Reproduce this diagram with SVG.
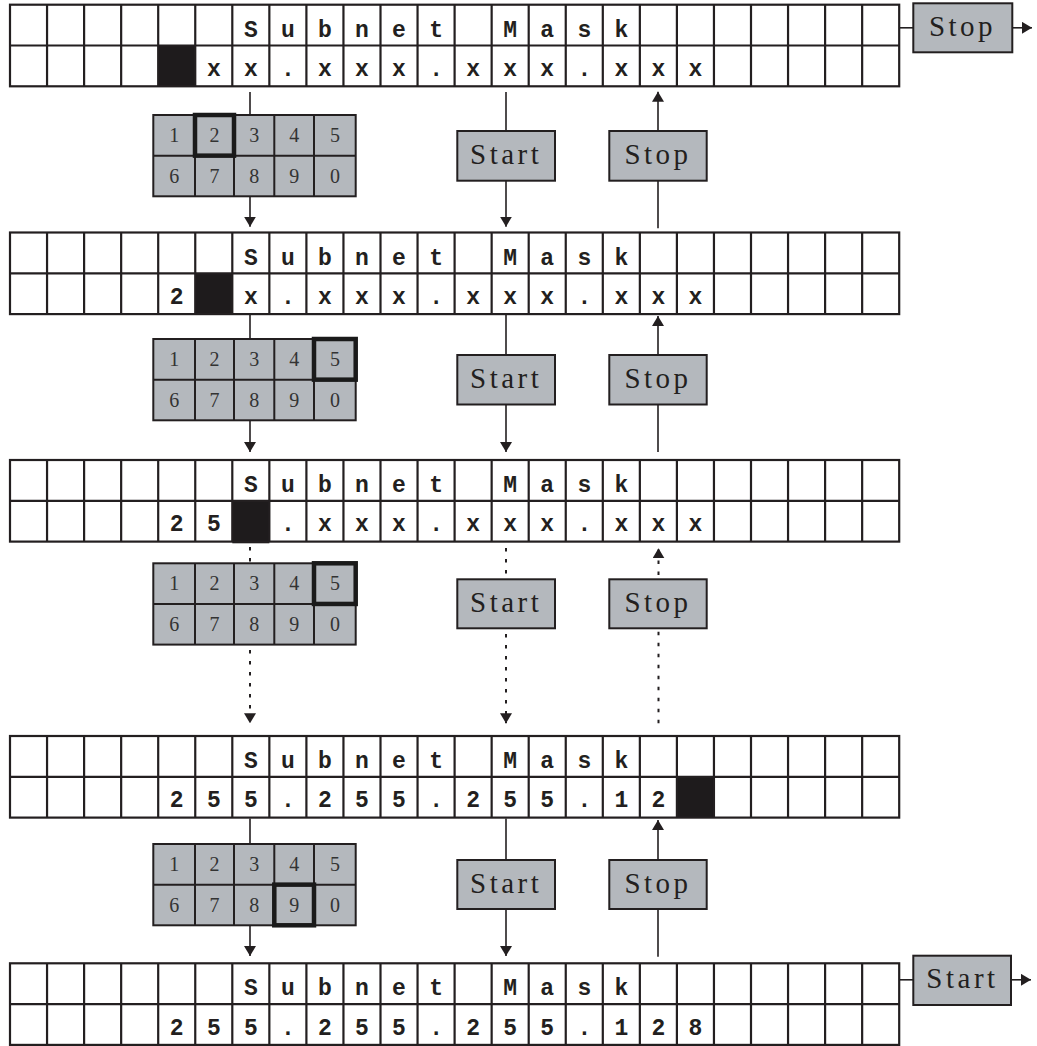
<svg xmlns="http://www.w3.org/2000/svg" xmlns:xlink="http://www.w3.org/1999/xlink" width="1037" height="1046" viewBox="0 0 1037 1046">
<style>
.grid{fill:none;stroke:#231f20;stroke-width:2.2}
.mono{font-family:"Liberation Mono","DejaVu Sans Mono",monospace;font-weight:bold;font-size:23px;fill:#231f20;text-anchor:middle}
.cur{fill:#1e1b1c}
.pad{fill:#b4b8bd;stroke:#231f20;stroke-width:2}
.padl{stroke:#231f20;stroke-width:2}
.dig{font-family:"Liberation Serif","Times New Roman",serif;font-size:20px;fill:#333;text-anchor:middle}
.sel{fill:none;stroke:#1a1a1a;stroke-width:4.5}
.btn{fill:#b4b8bd;stroke:#231f20;stroke-width:2}
.btnt{font-family:"Liberation Serif","Times New Roman",serif;font-size:29px;letter-spacing:3.5px;fill:#231f20;text-anchor:middle}
.ln{stroke:#231f20;stroke-width:1.6;fill:none}
.dot{stroke:#231f20;stroke-width:2;fill:none;stroke-dasharray:3.5 7.5}
</style>
<defs>
<marker id="ah" viewBox="0 0 10 12" refX="10" refY="6" markerWidth="10" markerHeight="12" markerUnits="userSpaceOnUse" orient="auto">
<path d="M0,0 L10,6 L0,12 z" fill="#231f20"/>
</marker>
<g id="lcd" class="grid">
<rect x="10" y="0" width="889.2" height="81.6"/>
<line x1="10" y1="40.8" x2="899.2" y2="40.8"/>
<path d="M47.05 0V81.6M84.1 0V81.6M121.15 0V81.6M158.2 0V81.6M195.25 0V81.6M232.3 0V81.6M269.35 0V81.6M306.4 0V81.6M343.45 0V81.6M380.5 0V81.6M417.55 0V81.6M454.6 0V81.6M491.65 0V81.6M528.7 0V81.6M565.75 0V81.6M602.8 0V81.6M639.85 0V81.6M676.9 0V81.6M713.95 0V81.6M751 0V81.6M788.05 0V81.6M825.1 0V81.6M862.15 0V81.6"/>
</g>
<g id="padgrid">
<rect class="pad" x="153.3" y="0" width="202.4" height="81.3"/>
<path class="padl" d="M195 0V81.3M234 0V81.3M274.3 0V81.3M314 0V81.3M153.3 40.65H355.7"/>
</g>
</defs>

<g id="panel1">
<rect class="cur" x="158.2" y="45.5" width="37.05" height="40.8"/>
<use xlink:href="#lcd" href="#lcd" transform="translate(0,4.7)"/>
<text class="mono" x="250.8 287.9 324.9 362.0 399.0 436.1 473.1 510.2 547.2 584.3 621.3" y="36.7">Subnet Mask</text>
<text class="mono" x="213.8 250.8 287.9 324.9 362.0 399.0 436.1 473.1 510.2 547.2 584.3 621.3 658.4 695.4" y="76">xx.xxx.xxx.xxx</text>
</g>
<g id="panel2">
<rect class="cur" x="195.25" y="273.3" width="37.05" height="40.8"/>
<use xlink:href="#lcd" href="#lcd" transform="translate(0,232.5)"/>
<text class="mono" x="250.8 287.9 324.9 362.0 399.0 436.1 473.1 510.2 547.2 584.3 621.3" y="264.5">Subnet Mask</text>
<text class="mono" x="176.7 250.8 287.9 324.9 362.0 399.0 436.1 473.1 510.2 547.2 584.3 621.3 658.4 695.4" y="303.8">2x.xxx.xxx.xxx</text>
</g>
<g id="panel3">
<rect class="cur" x="232.3" y="500.8" width="37.05" height="42.5"/>
<use xlink:href="#lcd" href="#lcd" transform="translate(0,460)"/>
<text class="mono" x="250.8 287.9 324.9 362.0 399.0 436.1 473.1 510.2 547.2 584.3 621.3" y="492">Subnet Mask</text>
<text class="mono" x="176.7 213.8 287.9 324.9 362.0 399.0 436.1 473.1 510.2 547.2 584.3 621.3 658.4 695.4" y="531.3">25.xxx.xxx.xxx</text>
</g>
<g id="panel4">
<rect class="cur" x="676.9" y="776.8" width="37.05" height="40.8"/>
<use xlink:href="#lcd" href="#lcd" transform="translate(0,736)"/>
<text class="mono" x="250.8 287.9 324.9 362.0 399.0 436.1 473.1 510.2 547.2 584.3 621.3" y="768">Subnet Mask</text>
<text class="mono" x="176.7 213.8 250.8 287.9 324.9 362.0 399.0 436.1 473.1 510.2 547.2 584.3 621.3 658.4" y="807.3">255.255.255.12</text>
</g>
<g id="panel5">
<use xlink:href="#lcd" href="#lcd" transform="translate(0,963.3)"/>
<text class="mono" x="250.8 287.9 324.9 362.0 399.0 436.1 473.1 510.2 547.2 584.3 621.3" y="995.3">Subnet Mask</text>
<text class="mono" x="176.7 213.8 250.8 287.9 324.9 362.0 399.0 436.1 473.1 510.2 547.2 584.3 621.3 658.4 695.4" y="1034.6">255.255.255.128</text>
</g>

<g id="keypad1">
<use xlink:href="#padgrid" href="#padgrid" transform="translate(0,115)"/>
<text class="dig" x="174.2 214.5 254.2 294.2 334.9" y="142">12345</text>
<text class="dig" x="174.2 214.5 254.2 294.2 334.9" y="182.5">67890</text>
<rect class="sel" x="195" y="115" width="39" height="40.65"/>
</g>
<g id="keypad2">
<use xlink:href="#padgrid" href="#padgrid" transform="translate(0,339)"/>
<text class="dig" x="174.2 214.5 254.2 294.2 334.9" y="366">12345</text>
<text class="dig" x="174.2 214.5 254.2 294.2 334.9" y="406.5">67890</text>
<rect class="sel" x="314" y="339" width="41.7" height="40.65"/>
</g>
<g id="keypad3">
<use xlink:href="#padgrid" href="#padgrid" transform="translate(0,563.3)"/>
<text class="dig" x="174.2 214.5 254.2 294.2 334.9" y="590.3">12345</text>
<text class="dig" x="174.2 214.5 254.2 294.2 334.9" y="630.8">67890</text>
<rect class="sel" x="314" y="563.3" width="41.7" height="40.65"/>
</g>
<g id="keypad4">
<use xlink:href="#padgrid" href="#padgrid" transform="translate(0,844)"/>
<text class="dig" x="174.2 214.5 254.2 294.2 334.9" y="871">12345</text>
<text class="dig" x="174.2 214.5 254.2 294.2 334.9" y="911.5">67890</text>
<rect class="sel" x="274.3" y="884.65" width="39.7" height="40.65"/>
</g>

<g id="start1"><rect class="btn" x="457.3" y="131" width="97.7" height="49.7"/><text class="btnt" x="506.2" y="163.5">Start</text></g>
<g id="stop1"><rect class="btn" x="609.3" y="131" width="97.4" height="49.7"/><text class="btnt" x="658" y="163.5">Stop</text></g>
<g id="start2"><rect class="btn" x="457.3" y="355" width="97.7" height="49.5"/><text class="btnt" x="506.2" y="387.5">Start</text></g>
<g id="stop2"><rect class="btn" x="609.3" y="355" width="97.4" height="49.5"/><text class="btnt" x="658" y="387.5">Stop</text></g>
<g id="start3"><rect class="btn" x="457.3" y="579.3" width="97.7" height="49"/><text class="btnt" x="506.2" y="611.8">Start</text></g>
<g id="stop3"><rect class="btn" x="609.3" y="579.3" width="97.4" height="49"/><text class="btnt" x="658" y="611.8">Stop</text></g>
<g id="start4"><rect class="btn" x="457.3" y="860" width="97.7" height="49"/><text class="btnt" x="506.2" y="892.5">Start</text></g>
<g id="stop4"><rect class="btn" x="609.3" y="860" width="97.4" height="49"/><text class="btnt" x="658" y="892.5">Stop</text></g>
<g id="stopRight"><rect class="btn" x="913.3" y="3.3" width="99" height="49"/><text class="btnt" x="962.5" y="35.8">Stop</text></g>
<g id="startRight"><rect class="btn" x="913.3" y="955.7" width="97.7" height="49.3"/><text class="btnt" x="962.5" y="988.3">Start</text></g>

<g id="connectors">
<line class="ln" x1="250" y1="92" x2="250" y2="115"/>
<line class="ln" x1="250" y1="196.3" x2="250" y2="226.7" marker-end="url(#ah)"/>
<line class="ln" x1="506" y1="92" x2="506" y2="131"/>
<line class="ln" x1="506" y1="180.7" x2="506" y2="226.7" marker-end="url(#ah)"/>
<line class="ln" x1="658" y1="228.3" x2="658" y2="180.7"/>
<line class="ln" x1="658" y1="131" x2="658" y2="91.7" marker-end="url(#ah)"/>
<line class="ln" x1="899" y1="27.8" x2="913.3" y2="27.8"/>
<line class="ln" x1="1012.3" y1="27.8" x2="1032" y2="27.8" marker-end="url(#ah)"/>

<line class="ln" x1="250" y1="315" x2="250" y2="339"/>
<line class="ln" x1="250" y1="420.3" x2="250" y2="452" marker-end="url(#ah)"/>
<line class="ln" x1="506" y1="315" x2="506" y2="355"/>
<line class="ln" x1="506" y1="404.5" x2="506" y2="452" marker-end="url(#ah)"/>
<line class="ln" x1="658" y1="452" x2="658" y2="404.5"/>
<line class="ln" x1="658" y1="355" x2="658" y2="316" marker-end="url(#ah)"/>

<line class="dot" x1="250" y1="547" x2="250" y2="563.3"/>
<line class="dot" x1="250" y1="650" x2="250" y2="723.3" marker-end="url(#ah)"/>
<line class="dot" x1="506" y1="548" x2="506" y2="579.3"/>
<line class="dot" x1="506" y1="634" x2="506" y2="723.3" marker-end="url(#ah)"/>
<line class="dot" x1="658.5" y1="723.3" x2="658.5" y2="630"/>
<line class="dot" x1="658.5" y1="575" x2="658.5" y2="548.3" marker-end="url(#ah)"/>

<line class="ln" x1="250" y1="818.5" x2="250" y2="844"/>
<line class="ln" x1="250" y1="925.3" x2="250" y2="956" marker-end="url(#ah)"/>
<line class="ln" x1="506" y1="818.5" x2="506" y2="860"/>
<line class="ln" x1="506" y1="909" x2="506" y2="956" marker-end="url(#ah)"/>
<line class="ln" x1="658" y1="956.7" x2="658" y2="909"/>
<line class="ln" x1="658" y1="860" x2="658" y2="820" marker-end="url(#ah)"/>
<line class="ln" x1="899" y1="979.8" x2="913.3" y2="979.8"/>
<line class="ln" x1="1011" y1="979.8" x2="1031" y2="979.8" marker-end="url(#ah)"/>
</g>
</svg>
